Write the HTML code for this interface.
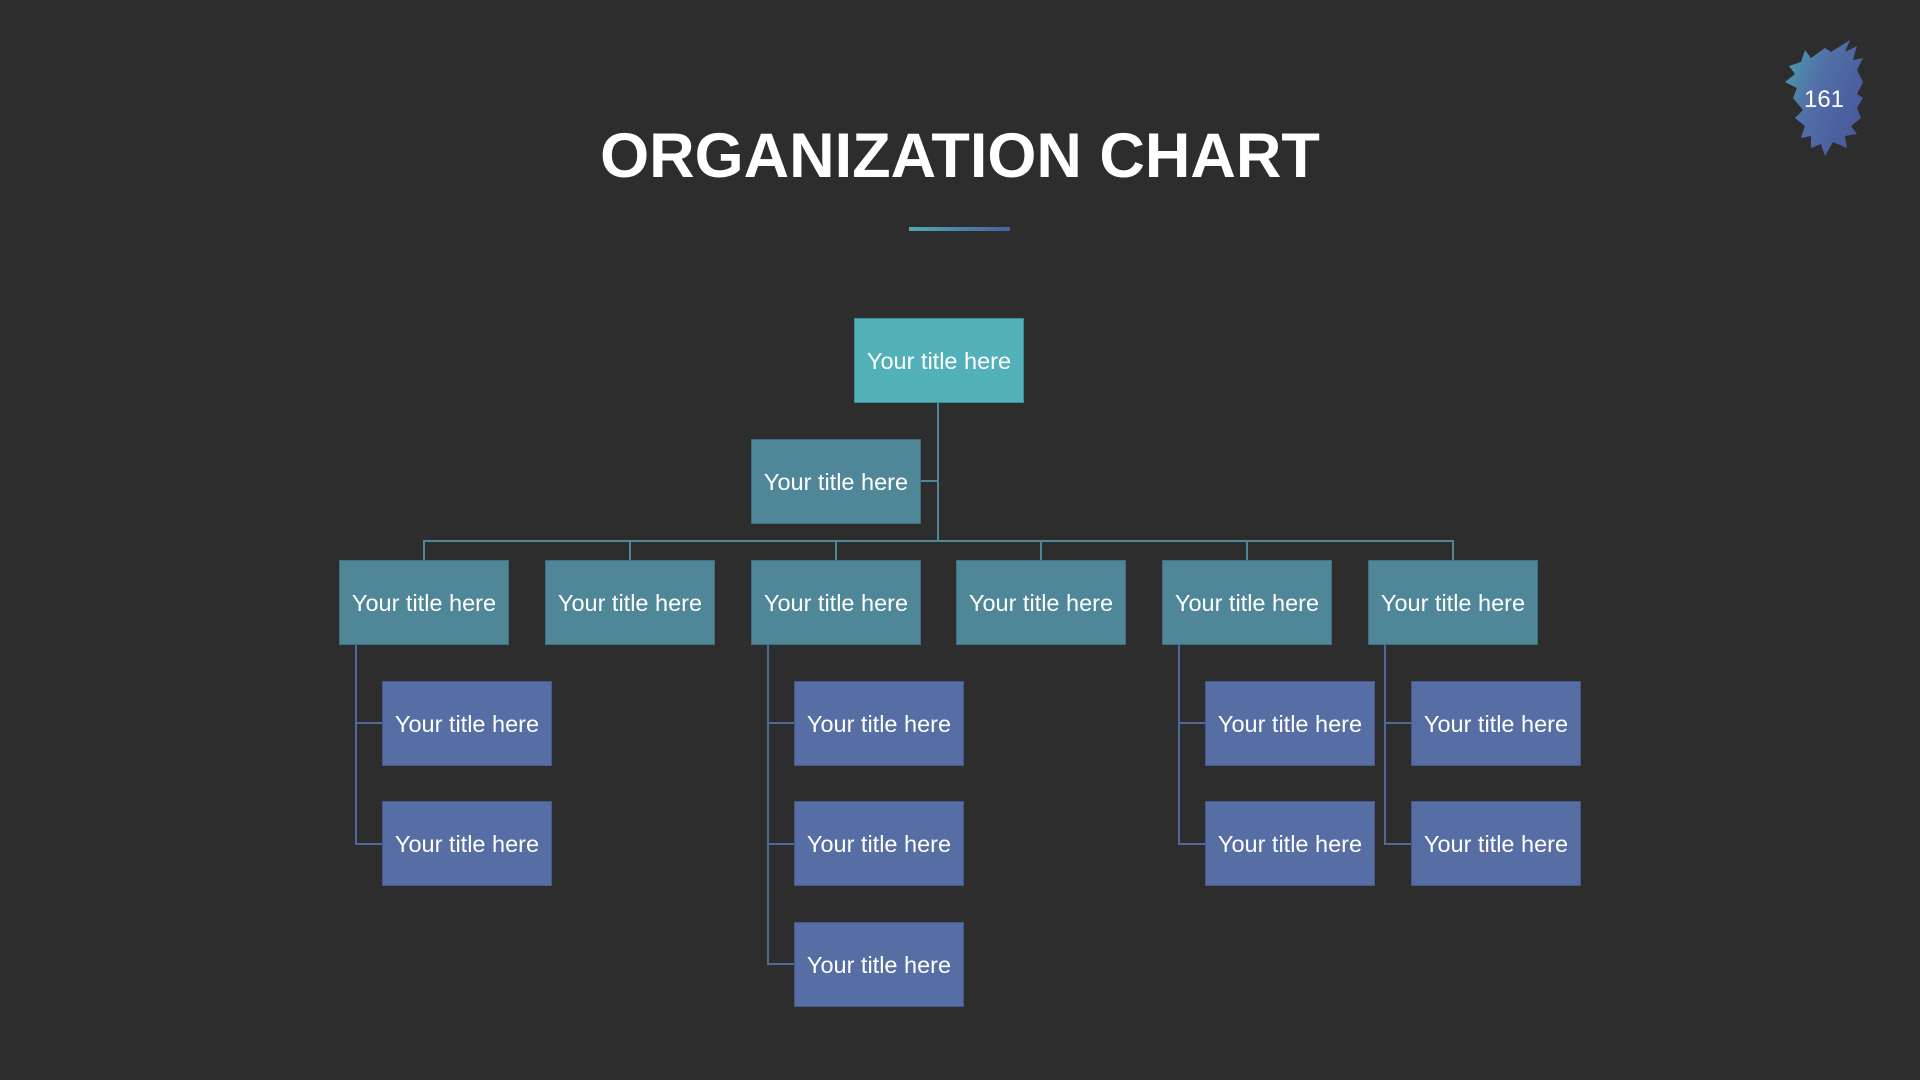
<!DOCTYPE html>
<html><head><meta charset="utf-8"><style>
body{margin:0;width:1920px;height:1080px;background:#2d2d2d;position:relative;overflow:hidden;font-family:"Liberation Sans",sans-serif}
.t{position:absolute;left:0;width:1920px;top:120px;text-align:center;color:#fff;font-weight:bold;font-size:63px}
.u{position:absolute;left:909px;top:227px;width:101px;height:4px;background:linear-gradient(90deg,#4fa8b3,#4a5f9e)}
.b{position:absolute;width:170px;height:85px;display:flex;align-items:center;justify-content:center;color:#fff;font-size:23.5px;box-sizing:border-box;padding-top:2px}
.a{background:#52b0b8;border:1px solid #3f8e96}
.m{background:#4f8799;border:1px solid #3f7080}
.c{background:#566ea3;border:1px solid #45598a}
.l{position:absolute;background:#4f8799}
.k{position:absolute;background:#4f6a9a}
</style></head><body>
<div class="t">ORGANIZATION CHART</div>
<div class="u"></div>
<svg style="position:absolute;left:1775px;top:38px" width="100" height="120" viewBox="0 0 100 120">
<defs><linearGradient id="g" x1="0" y1="0" x2="1" y2="0.6"><stop offset="0" stop-color="#4aa5ae"/><stop offset="0.45" stop-color="#5170a8"/><stop offset="1" stop-color="#4a5a9c"/></linearGradient></defs>
<polygon fill="url(#g)" points="30,12 36,20 50,10 56,14 75,2 70,14 82,8 78,22 88,20 82,32 88,44 82,56 88,60 82,70 86,80 76,88 82,96 70,98 72,110 58,104 50,118 46,106 36,110 36,98 26,100 30,88 20,80 28,72 18,60 22,50 10,44 20,36 14,28 26,24"/>
<text x="49" y="69" fill="#fff" font-size="24" text-anchor="middle" font-family="Liberation Sans, sans-serif">161</text>
</svg>
<div class="l" style="left:937px;top:403px;width:2px;height:139px"></div>
<div class="l" style="left:921px;top:480px;width:17px;height:2px"></div>
<div class="l" style="left:423px;top:540px;width:1031px;height:2px"></div>
<div class="l" style="left:423px;top:540px;width:2px;height:20px"></div>
<div class="l" style="left:629px;top:540px;width:2px;height:20px"></div>
<div class="l" style="left:835px;top:540px;width:2px;height:20px"></div>
<div class="l" style="left:1040px;top:540px;width:2px;height:20px"></div>
<div class="l" style="left:1246px;top:540px;width:2px;height:20px"></div>
<div class="l" style="left:1452px;top:540px;width:2px;height:20px"></div>
<div class="k" style="left:355px;top:644px;width:2px;height:201px"></div>
<div class="k" style="left:355px;top:722px;width:27px;height:2px"></div>
<div class="k" style="left:355px;top:843px;width:27px;height:2px"></div>
<div class="k" style="left:767px;top:644px;width:2px;height:321px"></div>
<div class="k" style="left:767px;top:722px;width:27px;height:2px"></div>
<div class="k" style="left:767px;top:843px;width:27px;height:2px"></div>
<div class="k" style="left:767px;top:963px;width:27px;height:2px"></div>
<div class="k" style="left:1178px;top:644px;width:2px;height:201px"></div>
<div class="k" style="left:1178px;top:722px;width:27px;height:2px"></div>
<div class="k" style="left:1178px;top:843px;width:27px;height:2px"></div>
<div class="k" style="left:1384px;top:644px;width:2px;height:201px"></div>
<div class="k" style="left:1384px;top:722px;width:27px;height:2px"></div>
<div class="k" style="left:1384px;top:843px;width:27px;height:2px"></div>
<div class="b a" style="left:854px;top:318px">Your title here</div>
<div class="b m" style="left:751px;top:439px">Your title here</div>
<div class="b m" style="left:339px;top:560px">Your title here</div>
<div class="b m" style="left:545px;top:560px">Your title here</div>
<div class="b m" style="left:751px;top:560px">Your title here</div>
<div class="b m" style="left:956px;top:560px">Your title here</div>
<div class="b m" style="left:1162px;top:560px">Your title here</div>
<div class="b m" style="left:1368px;top:560px">Your title here</div>
<div class="b c" style="left:382px;top:681px">Your title here</div>
<div class="b c" style="left:382px;top:801px">Your title here</div>
<div class="b c" style="left:794px;top:681px">Your title here</div>
<div class="b c" style="left:794px;top:801px">Your title here</div>
<div class="b c" style="left:794px;top:922px">Your title here</div>
<div class="b c" style="left:1205px;top:681px">Your title here</div>
<div class="b c" style="left:1205px;top:801px">Your title here</div>
<div class="b c" style="left:1411px;top:681px">Your title here</div>
<div class="b c" style="left:1411px;top:801px">Your title here</div>
</body></html>
